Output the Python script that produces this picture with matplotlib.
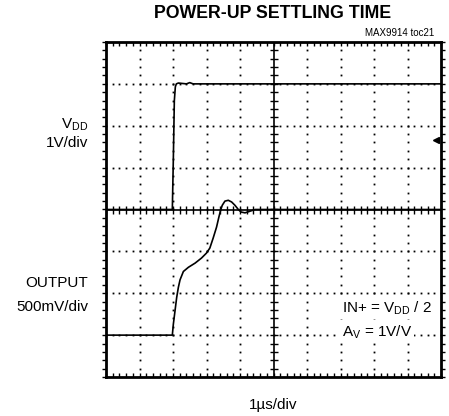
import numpy as np
from matplotlib import pyplot as plt

# time in us, 1us/div, 10 divisions
vdd_t = [0.0, 1.98, 2.01, 2.04, 2.07, 2.10, 2.16, 2.40, 2.50, 2.60, 10.0]
vdd_v = [0.0, 0.0, 1.2, 2.6, 2.93, 3.0, 3.02, 3.0, 3.03, 3.0, 3.0]

out_t = [0.0, 1.98, 2.01, 2.06, 2.11, 2.16, 2.21, 2.31, 2.46, 2.66, 2.85, 3.00,
         3.10, 3.20, 3.30, 3.37, 3.42, 3.47, 3.55, 3.65, 3.75, 3.85, 3.95,
         4.03, 4.15, 4.30, 4.45, 10.0]
out_v = [0.0, 0.0, 0.13, 0.29, 0.45, 0.57, 0.66, 0.76, 0.81, 0.86, 0.92, 0.98,
         1.04, 1.16, 1.29, 1.41, 1.49, 1.55, 1.60, 1.61, 1.59, 1.55, 1.50,
         1.47, 1.46, 1.48, 1.50, 1.50]

VDD_SCALE, VDD_OFFSET = 1.0, 0.0   # 1V/div
OUT_SCALE, OUT_OFFSET = 0.5, -3.0  # 500mV/div

plt.rcParams['font.family'] = ['Liberation Sans', 'DejaVu Sans']
plt.rcParams['mathtext.fontset'] = 'custom'
plt.rcParams['mathtext.rm'] = 'Liberation Sans'

fig = plt.figure(figsize=(4.49, 4.16), dpi=100)
ax = fig.add_axes([106 / 449, 39 / 416, 335 / 449, 335 / 416])
ax.set_xlim(0, 10)
ax.set_ylim(-4, 4)
ax.set_xticks([])
ax.set_yticks([])
for s in ax.spines.values():
    s.set_linewidth(2.0)

minor_x = np.arange(0, 10.01, 0.2)
minor_y = np.arange(-4, 4.01, 0.2)

# dotted graticule
for gx in range(1, 10):
    if gx == 5:
        continue
    ax.plot(np.full_like(minor_y, gx), minor_y, ls='none', marker='s',
            ms=1.3, color='black', mew=0)
for gy in range(-3, 4):
    if gy == 0:
        continue
    ax.plot(minor_x, np.full_like(minor_x, gy), ls='none', marker='s',
            ms=1.3, color='black', mew=0)

# center axes with crossing ticks
ax.axhline(0, color='black', lw=1.2)
ax.axvline(5, color='black', lw=1.2)
ax.plot(minor_x, np.zeros_like(minor_x), ls='none', marker='|', ms=6,
        mew=1.0, color='black')
ax.plot(np.full_like(minor_y, 5), minor_y, ls='none', marker='_', ms=6,
        mew=1.0, color='black')

# frame ticks pointing inward
ax.plot(minor_x, np.full_like(minor_x, 4), ls='none', marker=3, ms=3,
        mew=1.0, color='black', clip_on=False)
ax.plot(minor_x, np.full_like(minor_x, -4), ls='none', marker=2, ms=3,
        mew=1.0, color='black', clip_on=False)
ax.plot(np.zeros_like(minor_y), minor_y, ls='none', marker=0, ms=3,
        mew=1.0, color='black', clip_on=False)
ax.plot(np.full_like(minor_y, 10), minor_y, ls='none', marker=1, ms=3,
        mew=1.0, color='black', clip_on=False)

# traces
ax.plot(vdd_t, np.array(vdd_v) / VDD_SCALE + VDD_OFFSET, color='black', lw=1.2)
ax.plot(out_t, np.array(out_v) / OUT_SCALE + OUT_OFFSET, color='black', lw=1.2)

# reference arrow on right
ax.plot([9.86], [1.67], marker='<', ms=5, color='black', ls='none')

fig.text(273 / 449, 1 - 14 / 416, 'POWER-UP SETTLING TIME', ha='center',
         va='center', fontsize=12.8, fontweight='bold')
fig.text(434 / 449, 1 - 33 / 416, 'MAX9914 toc21', ha='right', va='center',
         fontsize=7)
fig.text(88 / 449, 1 - 125 / 416, r'V$_{\mathregular{DD}}$', ha='right',
         va='center', fontsize=11)
fig.text(88 / 449, 1 - 143 / 416, '1V/div', ha='right', va='center',
         fontsize=11)
fig.text(88 / 449, 1 - 283 / 416, 'OUTPUT', ha='right', va='center',
         fontsize=11)
fig.text(88 / 449, 1 - 307 / 416, '500mV/div', ha='right', va='center',
         fontsize=11)
box = dict(facecolor='white', edgecolor='none', pad=1.5)
fig.text(342 / 449, 1 - 308 / 416, r'IN+ = V$_{\mathregular{DD}}$ / 2',
         ha='left', va='center', fontsize=11, bbox=box)
fig.text(342 / 449, 1 - 332 / 416, r'A$_{\mathregular{V}}$ = 1V/V',
         ha='left', va='center', fontsize=11, bbox=box)
fig.text(273 / 449, 1 - 405 / 416, '1\u00b5s/div', ha='center', va='center',
         fontsize=11)

fig.savefig('out.png', dpi=100)
